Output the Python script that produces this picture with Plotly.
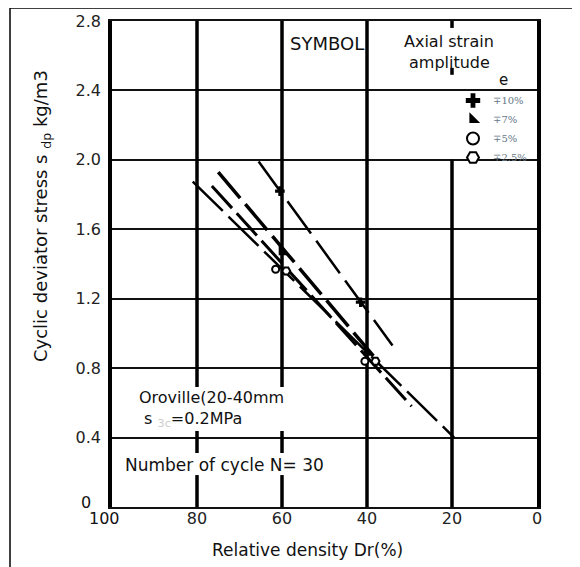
import plotly.graph_objects as go

# ---------------- data ----------------
strain_names = ["∓10%", "∓7%", "∓5%", "∓2.5%"]
# fitted (dashed) lines: relative density Dr (%) and cyclic deviator stress
fit_dr = [[65.5, 34.0], [75.0, 38.5], [76.5, 29.5], [81.0, 19.5]]
fit_sd = [[1.99, 0.93], [1.93, 0.87], [1.85, 0.58], [1.875, 0.40]]
# test points
pt_dr = [[60.5, 41.5], [60.0, 40.0], [61.5, 40.5], [59.0, 38.0]]
pt_sd = [[1.82, 1.18], [1.47, 0.89], [1.37, 0.84], [1.36, 0.84]]

x_ticks = [80, 60, 40, 20, 0]
y_ticks = [0.4, 0.8, 1.2, 1.6, 2.0, 2.4, 2.8]

# ---------------- styles ----------------
dashes = ["40px,9px", "34px,8px", "30px,7px", "42px,8px"]
widths = [2.5, 3.5, 3.0, 2.5]
symbols = ["cross", "triangle-sw", "circle", "hexagon2"]
msizes = [8, 11, 7, 8]
mfill = ["black", "black", "white", "white"]
mline = [0, 0, 2, 2]

FONT = "DejaVu Sans"
OFF = 8                      # page body margin of the html page
W, H = 572, 559
L, R, T, B = 104, 43, 13, 60
PW, PH = W - L - R, H - T - B


def px(xs):
    """screen x pixel -> paper x"""
    return (xs - OFF - L) / PW


def py(ys):
    """screen y pixel -> paper y"""
    return (H - B - (ys - OFF)) / PH


fig = go.Figure()

for i in range(4):
    fig.add_trace(go.Scatter(
        x=fit_dr[i], y=fit_sd[i], mode="lines", showlegend=False,
        line=dict(color="black", width=widths[i], dash=dashes[i]),
        hoverinfo="skip"))

for i in range(4):
    fig.add_trace(go.Scatter(
        x=pt_dr[i], y=pt_sd[i], mode="markers", name=strain_names[i],
        marker=dict(symbol=symbols[i], size=msizes[i], color=mfill[i],
                    line=dict(color="black", width=mline[i]))))

# vertical grid lines (thick, broken where text sits)
grid_segments = {
    80: [(0, 0.184), (0.311, 0.438), (0.691, 2.8)],
    60: [(0, 0.184), (0.311, 0.438), (0.691, 2.8)],
    40: [(0, 2.8)],
    20: [(0, 2.0), (2.49, 2.53), (2.76, 2.8)],
}
shapes = []
for xv, segs in grid_segments.items():
    for y0, y1 in segs:
        shapes.append(dict(type="line", xref="x", yref="y", x0=xv, x1=xv,
                           y0=y0, y1=y1, layer="between",
                           line=dict(color="black", width=3.5)))
# outer frame of the picture
shapes.append(dict(type="line", xref="paper", yref="paper",
                   x0=px(10), x1=px(600), y0=py(8), y1=py(8),
                   line=dict(color="black", width=1.5)))
shapes.append(dict(type="line", xref="paper", yref="paper",
                   x0=px(10), x1=px(10), y0=py(8), y1=py(600),
                   line=dict(color="black", width=1.5)))

ann = []


def add(text, xs, ys, xanchor="center", size=17, angle=0, color="#111", align="center"):
    ann.append(dict(text=text, x=px(xs), y=py(ys), xref="paper", yref="paper",
                    xanchor=xanchor, yanchor="middle", showarrow=False,
                    textangle=angle, align=align,
                    font=dict(family=FONT, size=size, color=color)))


add("SYMBOL", 327, 43, size=18)
add("Axial strain", 449, 42, size=16)
add("amplitude", 449, 62, size=16)
add("e", 503, 80, size=15)
add("Oroville(20-40mm<br>\u00a0s <span style='color:#cccccc'><sub>3c</sub></span>=0.2MPa",
    137, 409, xanchor="left", size=16, align="left")
add("Number of cycle N= 30", 123, 465, xanchor="left")
add("0", 86, 502, size=16)
add("100", 104, 518, size=16)
add("Relative density Dr(%)", 307, 550, size=17)
add("Cyclic deviator stress s <sub>dp</sub> kg/m3", 42, 216, size=18, angle=-90)

fig.update_layout(
    width=W, height=H,
    margin=dict(l=L, r=R, t=T, b=B, pad=0, autoexpand=False),
    paper_bgcolor="white", plot_bgcolor="white",
    shapes=shapes, annotations=ann,
    showlegend=True,
    legend=dict(x=px(453), y=py(86), xanchor="left", yanchor="top",
                bgcolor="rgba(0,0,0,0)", borderwidth=0, itemsizing="constant",
                font=dict(family="DejaVu Serif", size=10, color="#667788"),
                itemwidth=30, tracegroupgap=0),
    xaxis=dict(range=[100, 0], tickvals=x_ticks, ticktext=[str(v) for v in x_ticks],
               showgrid=False, zeroline=False, showline=True, linecolor="#111",
               linewidth=1.5, mirror=True, ticks="", ticklabelstandoff=-4,
               automargin=False,
               tickfont=dict(family=FONT, size=16, color="#222")),
    yaxis=dict(range=[0, 2.8], tickvals=y_ticks, tickformat=".1f",
               showgrid=True, gridcolor="#111", gridwidth=1.5, zeroline=False,
               showline=True, linecolor="black", linewidth=3.5, mirror=True,
               ticks="", ticklabelstandoff=4, automargin=False,
               tickfont=dict(family=FONT, size=16, color="#222")),
)

fig.write_html("out.html")
